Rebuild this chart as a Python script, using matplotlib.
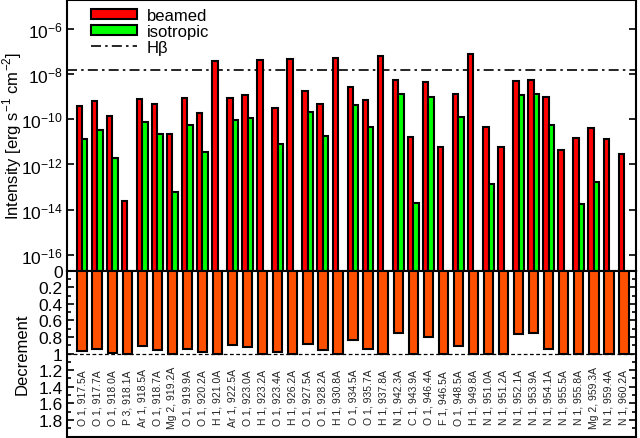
import numpy as np
import matplotlib
matplotlib.use("Agg")
import matplotlib.pyplot as plt
from matplotlib.ticker import FixedLocator, MultipleLocator, NullLocator, FuncFormatter

plt.rcParams['font.family'] = ['Liberation Sans', 'DejaVu Sans']

# line labels (element, ion, wavelength)
line_labels = [
    "O 1, 917.5A", "O 1, 917.7A", "O 1, 918.0A", "P 3, 918.1A", "Ar 1, 918.5A",
    "O 1, 918.7A", "Mg 2, 919.2A", "O 1, 919.9A", "O 1, 920.2A", "H 1, 921.0A",
    "Ar 1, 922.5A", "O 1, 923.0A", "H 1, 923.2A", "O 1, 923.4A", "H 1, 926.2A",
    "O 1, 927.5A", "O 1, 928.2A", "H 1, 930.8A", "O 1, 934.5A", "O 1, 935.7A",
    "H 1, 937.8A", "N 1, 942.3A", "C 1, 943.9A", "O 1, 946.4A", "F 1, 946.5A",
    "O 1, 948.5A", "H 1, 949.8A", "N 1, 951.0A", "N 1, 951.2A", "N 1, 952.1A",
    "N 1, 953.9A", "N 1, 954.1A", "N 1, 955.5A", "N 1, 955.8A", "Mg 2, 959.3A",
    "N 1, 959.4A", "N 1, 960.2A",
]

# log10 of intensity [erg s^-1 cm^-2]
log_beamed = [
    -9.40, -9.20, -9.83, -13.63, -9.11, -9.30, -10.66, -9.06, -9.70, -7.41,
    -9.06, -8.92, -7.35, -9.51, -7.32, -8.75, -9.34, -7.26, -8.58, -9.14,
    -7.19, -8.27, -10.79, -8.35, -11.24, -8.86, -7.11, -10.36, -11.24, -8.28,
    -8.27, -9.03, -11.34, -10.82, -10.39, -10.88, -11.52,
]
# None = no isotropic bar
log_isotropic = [
    -10.88, -10.47, -11.71, None, -10.14, -10.66, -13.22, -10.23, -11.43, None,
    -10.04, -9.94, None, -11.10, None, -9.67, -10.74, None, -9.37, -10.36,
    None, -8.86, -13.69, -9.03, None, -9.88, None, -12.85, None, -8.92,
    -8.89, -10.23, None, -13.75, -12.79, None, None,
]
log_hbeta = -7.82

decrement = [
    0.97, 0.95, 0.99, 1.00, 0.91, 0.96, 1.00, 0.94, 0.98, 1.00,
    0.90, 0.92, 1.00, 0.98, 1.00, 0.88, 0.96, 1.00, 0.84, 0.94,
    1.00, 0.75, 1.00, 0.80, 1.00, 0.91, 1.00, 1.00, 1.00, 0.76,
    0.75, 0.94, 1.00, 1.00, 1.00, 1.00, 1.00,
]

x = np.arange(len(line_labels))
beamed = 10.0 ** np.array(log_beamed)
iso_x = [i for i, v in enumerate(log_isotropic) if v is not None]
iso_val = [10.0 ** log_isotropic[i] for i in iso_x]

fig = plt.figure(figsize=(6.4, 4.39), dpi=100)
ax_top = fig.add_axes([0.1047, 0.3811, 0.8891, 0.6166])
ax_bot = fig.add_axes([0.1047, 0.0034, 0.8891, 0.3777])

bar_w = 0.36
ylo, yhi = 10 ** -16.71, 10 ** -4.71
ax_top.set_yscale("log")
b1 = ax_top.bar(x - bar_w / 2, beamed - ylo, width=bar_w, bottom=ylo, color="#ff0000",
                edgecolor="black", linewidth=1.5, label="beamed", zorder=3)
b2 = ax_top.bar(np.array(iso_x) + bar_w / 2, np.array(iso_val) - ylo, width=bar_w,
                bottom=ylo, color="#00ff00", edgecolor="black", linewidth=1.5,
                label="isotropic", zorder=3)
hb = ax_top.axhline(10 ** log_hbeta, color="black", linewidth=1.2,
                    dashes=(6, 2.5, 1.5, 2.5), label="H\u03b2", zorder=2)
ax_top.set_ylim(ylo, yhi)
ax_top.set_xlim(-1, 36.8)
ax_top.yaxis.set_major_locator(FixedLocator([10.0 ** e for e in range(-16, -5, 2)]))
ax_top.yaxis.set_minor_locator(NullLocator())
ax_top.yaxis.set_major_formatter(FuncFormatter(
    lambda v, p: r"$\mathregular{10^{%d}}$" % round(np.log10(v))))
ax_top.set_xticks([])
ax_top.tick_params(axis="y", direction="in", right=True, length=5, width=1.2,
                   labelsize=12.5, pad=3)
ax_top.set_ylabel(r"Intensity [erg s$^{\mathregular{-1}}$ cm$^{\mathregular{-2}}$]",
                  fontsize=12)
ax_top.legend([b1, b2, hb], ["beamed", "isotropic", "H\u03b2"], loc="upper left",
              bbox_to_anchor=(0.03, 0.995), frameon=False,
              fontsize=12, handlelength=2.8, handleheight=0.6,
              handletextpad=0.55, labelspacing=0.05, borderaxespad=0)

ax_bot.bar(x, decrement, width=0.62, color="#ff5000", edgecolor="black",
           linewidth=1.5, zorder=3)
ax_bot.axhline(1.0, color="black", linewidth=0.9, linestyle=(0, (3, 2)), zorder=2)
ax_bot.set_xlim(-1, 36.8)
ax_bot.set_ylim(2.0, 0.0)
ax_bot.yaxis.set_major_locator(FixedLocator(np.arange(0, 1.81, 0.2)))
ax_bot.yaxis.set_minor_locator(MultipleLocator(0.1))
ax_bot.yaxis.set_major_formatter(FuncFormatter(lambda v, p: ("%.1f" % v).rstrip("0").rstrip(".")))
ax_bot.set_xticks([])
ax_bot.tick_params(axis="y", which="both", direction="in", right=True, width=1.2,
                   labelsize=12.5, pad=3)
ax_bot.tick_params(axis="y", which="major", length=5)
ax_bot.tick_params(axis="y", which="minor", length=3)
ax_bot.set_ylabel("Decrement", fontsize=12)

for xi, lab in zip(x, line_labels):
    ax_bot.text(xi, 1.52, lab, rotation=90, ha="center", va="center", fontsize=7.5,
                color="#222222")

for ax in (ax_top, ax_bot):
    for sp in ax.spines.values():
        sp.set_linewidth(1.5)

ax_top.yaxis.set_label_coords(-0.076, 0.5)
ax_bot.yaxis.set_label_coords(-0.066, 0.5)

fig.savefig("out.png", dpi=100)
